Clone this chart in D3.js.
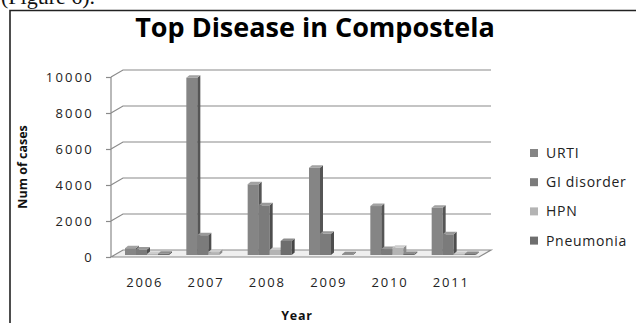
<!DOCTYPE html>
<html>
<head>
<meta charset="utf-8">
<script src="https://cdn.jsdelivr.net/npm/d3@7"></script>
<style>
  html, body { margin: 0; padding: 0; background: #fff; }
  svg { display: block; }
</style>
</head>
<body>
<svg id="chart" width="636" height="323"></svg>
<script>
// Cases per year for the four leading diseases
const years = ["2006", "2007", "2008", "2009", "2010", "2011"];
const seriesNames = ["URTI", "GI disorder", "HPN", "Pneumonia"];
const urti       = [380, 9850, 3930, 4850, 2720, 2630];
const giDisorder = [300, 1100, 2760, 1180, 330, 1150];
const hpn        = [60, 160, 280, 0, 400, 60];
const pneumonia  = [70, 0, 780, 40, 60, 60];
const yTicks = [0, 2000, 4000, 6000, 8000, 10000];

const seriesValues = [urti, giDisorder, hpn, pneumonia];
const faceColors = ["#858585", "#7b7b7b", "#b4b4b4", "#6e6e6e"];
const sideColors = ["#555555", "#4e4e4e", "#8a8a8a", "#464646"];
const topColors  = ["#a2a2a2", "#999999", "#cdcdcd", "#8c8c8c"];

const svg = d3.select("#chart");

// page text above the framed figure
svg.append("text")
  .attr("x", 1).attr("y", 4)
  .attr("font-family", "Liberation Serif, serif")
  .attr("font-size", 22)
  .attr("fill", "#111")
  .text("(Figure 6).");

// frame
svg.append("path")
  .attr("d", "M10,323 L10,10.5 L636,10.5")
  .attr("fill", "none").attr("stroke", "#222").attr("stroke-width", 1.6);

// title
svg.append("text")
  .attr("x", 315).attr("y", 37)
  .attr("text-anchor", "middle")
  .attr("font-family", "Open Sans, sans-serif")
  .attr("font-weight", "bold")
  .attr("font-size", 27)
  .attr("fill", "#000")
  .text("Top Disease in Compostela");

// 3D geometry: front plane, back wall offset
const depthX = 12, depthY = 7;
const x = d3.scaleBand().domain(years).range([111, 479]);
const yFront = d3.scaleLinear().domain([0, 10000]).range([257, 77]);
const yBar = d3.scaleLinear().domain([0, 10000]).range([255, 75]);

const grid = svg.append("g");
// floor
const x0 = x.range()[0], x1 = x.range()[1];
grid.append("path")
  .attr("d", `M${x0},${yFront(0)} L${x0 + depthX},${yFront(0) - depthY} L${x1 + depthX},${yFront(0) - depthY} L${x1},${yFront(0)} Z`)
  .attr("fill", "#efefef").attr("stroke", "#8a8a8a").attr("stroke-width", 1.2);
// back-wall gridlines with side-wall diagonals
yTicks.forEach(t => {
  const yf = yFront(t), yb = yf - depthY;
  if (t > 0) {
    grid.append("path")
      .attr("d", `M${x0},${yf} L${x0 + depthX},${yb} L${x1 + depthX},${yb}`)
      .attr("fill", "none").attr("stroke", "#8a8a8a").attr("stroke-width", 1.2);
  }
});
// vertical axis line
grid.append("line")
  .attr("x1", x0).attr("x2", x0)
  .attr("y1", yFront(0)).attr("y2", yFront(10000))
  .attr("stroke", "#8a8a8a").attr("stroke-width", 1.2);

// y axis ticks and labels
const yAxis = d3.axisLeft(yFront).tickValues(yTicks).tickFormat(d3.format("d"))
  .tickSize(5).tickPadding(12);
const yg = svg.append("g").attr("transform", `translate(${x0},0)`).call(yAxis);
yg.select(".domain").remove();
yg.selectAll(".tick line").attr("stroke", "#8a8a8a").attr("stroke-width", 1.2);
yg.selectAll(".tick text")
  .attr("font-family", "Open Sans, sans-serif")
  .attr("font-size", 13)
  .attr("letter-spacing", 2.2)
  .attr("fill", "#222");

// x axis labels
const xAxis = d3.axisBottom(x).tickSize(0).tickPadding(0);
const xg = svg.append("g").attr("transform", `translate(3,278)`).call(xAxis);
xg.select(".domain").remove();
xg.selectAll(".tick text")
  .attr("font-family", "Open Sans, sans-serif")
  .attr("font-size", 13)
  .attr("letter-spacing", 1.8)
  .attr("fill", "#222");

// axis titles
svg.append("text")
  .attr("x", 297).attr("y", 320)
  .attr("text-anchor", "middle")
  .attr("font-family", "Open Sans, sans-serif")
  .attr("font-weight", "bold")
  .attr("font-size", 12.5)
  .attr("letter-spacing", 0.8)
  .attr("fill", "#111")
  .text("Year");

svg.append("text")
  .attr("transform", "translate(27,167) rotate(-90)")
  .attr("text-anchor", "middle")
  .attr("font-family", "Open Sans, sans-serif")
  .attr("font-weight", "bold")
  .attr("font-size", 12.5)
  .attr("fill", "#111")
  .text("Num of cases");

// 3D columns
const barW = 11, sideD = 3, topD = 2.5, barOffset = 14;
const bars = svg.append("g");
years.forEach((yr, i) => {
  seriesValues.forEach((vals, s) => {
    const v = vals[i];
    if (v <= 0) return;
    const bx = x(yr) + barOffset + s * barW;
    const by = yBar(v), base = yBar(0);
    const g = bars.append("g");
    g.append("rect")
      .attr("x", bx).attr("y", by)
      .attr("width", barW).attr("height", base - by)
      .attr("fill", faceColors[s]);
    g.append("path")
      .attr("d", `M${bx + barW},${by} L${bx + barW + sideD},${by - topD} L${bx + barW + sideD},${base - topD} L${bx + barW},${base} Z`)
      .attr("fill", sideColors[s]);
    g.append("path")
      .attr("d", `M${bx},${by} L${bx + sideD},${by - topD} L${bx + barW + sideD},${by - topD} L${bx + barW},${by} Z`)
      .attr("fill", topColors[s]);
  });
});

// legend
const legend = svg.append("g");
seriesNames.forEach((name, s) => {
  const cy = 153 + s * 29.2;
  legend.append("rect")
    .attr("x", 530).attr("y", cy - 4).attr("width", 8).attr("height", 8)
    .attr("fill", faceColors[s]);
  legend.append("text")
    .attr("x", 546).attr("y", cy + 5)
    .attr("font-family", "Open Sans, sans-serif")
    .attr("font-size", 14)
    .attr("letter-spacing", 0.7)
    .attr("fill", "#222")
    .text(name);
});
</script>
</body>
</html>
